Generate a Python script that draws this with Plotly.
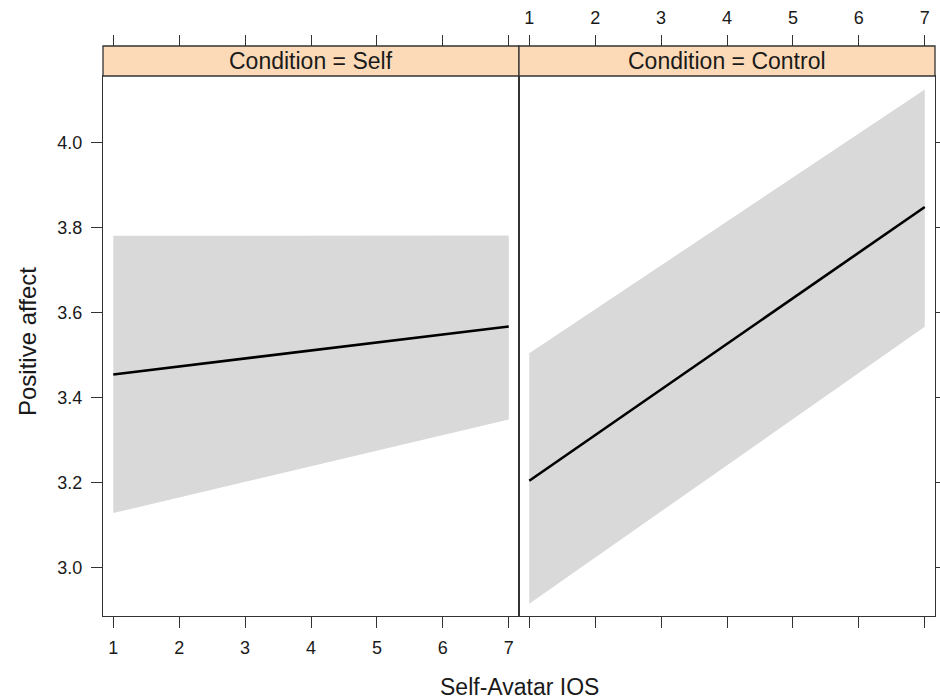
import plotly.graph_objects as go

# ---- data ----
conditions = ["Self", "Control"]
ios_x = [1, 7]
fit_self = [3.454, 3.567]
upper_self = [3.780, 3.781]
lower_self = [3.128, 3.348]
fit_control = [3.204, 3.848]
upper_control = [3.504, 4.124]
lower_control = [2.915, 3.566]
x_ticks = [1, 2, 3, 4, 5, 6, 7]
y_ticks = [3.0, 3.2, 3.4, 3.6, 3.8, 4.0]
y_tick_text = ["3.0", "3.2", "3.4", "3.6", "3.8", "4.0"]

W, H = 940, 700
FONT = "Liberation Sans, Arial, sans-serif"
TXT = "#1a1a1a"
FRAME = "#333333"
BAND = "#D9D9D9"
STRIP = "#FCDAB8"

px_l, px_m, px_r = 103, 519, 935
py_top, py_bot = 76, 616
strip_top = 46
dom_l = [px_l / W, px_m / W]
dom_r = [px_m / W, px_r / W]
dom_y = [(H - py_bot) / H, (H - py_top) / H]
strip_y = [(H - py_top) / H, (H - strip_top) / H]

xr = [0.844, 7.155]
yr = [2.886, 4.156]

fig = go.Figure()

panels = [
    ("x", "y", fit_self, upper_self, lower_self),
    ("x2", "y2", fit_control, upper_control, lower_control),
]
for xa, ya, fit, up, lo in panels:
    fig.add_trace(go.Scatter(
        x=ios_x + ios_x[::-1], y=up + lo[::-1], fill="toself",
        fillcolor=BAND, line=dict(width=0), mode="lines",
        hoverinfo="skip", showlegend=False, xaxis=xa, yaxis=ya))
    fig.add_trace(go.Scatter(
        x=ios_x, y=fit, mode="lines", line=dict(color="black", width=2.6),
        showlegend=False, xaxis=xa, yaxis=ya))

# invisible traces for top overlay axes
fig.add_trace(go.Scatter(x=[None], y=[None], xaxis="x3", yaxis="y", showlegend=False))
fig.add_trace(go.Scatter(x=[None], y=[None], xaxis="x4", yaxis="y2", showlegend=False))

tick_common = dict(ticks="outside", ticklen=11, tickwidth=1.2, tickcolor=FRAME,
                   tickfont=dict(family=FONT, size=18, color=TXT),
                   showgrid=False, zeroline=False, automargin=False)

fig.update_layout(
    template="none",
    width=W, height=H, margin=dict(l=0, r=0, t=0, b=0, pad=0),
    plot_bgcolor="white", paper_bgcolor="white", showlegend=False,
    xaxis=dict(domain=dom_l, range=xr, anchor="y", tickvals=x_ticks,
               ticklabelstandoff=4,
               showline=True, linecolor=FRAME, linewidth=1.3, mirror=True,
               **tick_common),
    xaxis2=dict(domain=dom_r, range=xr, anchor="y2", tickvals=x_ticks,
                showticklabels=False,
                showline=True, linecolor=FRAME, linewidth=1.3, mirror=True,
                **tick_common),
    xaxis3=dict(domain=dom_l, range=xr, overlaying="x", anchor="free",
                position=strip_y[1], side="top", tickvals=x_ticks,
                showticklabels=False, showline=False, **tick_common),
    xaxis4=dict(domain=dom_r, range=xr, overlaying="x2", anchor="free",
                position=strip_y[1], side="top", tickvals=x_ticks,
                ticklabelstandoff=4,
                showticklabels=True, showline=False, **tick_common),
    yaxis=dict(domain=dom_y, range=yr, anchor="x", tickvals=y_ticks,
               ticktext=y_tick_text, ticklabelstandoff=5,
               showline=True, linecolor=FRAME, linewidth=1.3, mirror=True,
               **tick_common),
    yaxis2=dict(domain=dom_y, range=yr, anchor="x2", side="right",
                tickvals=y_ticks, showticklabels=False,
                showline=True, linecolor=FRAME, linewidth=1.3, mirror=True,
                **tick_common),
)

# strips
for dom, cond in zip([dom_l, dom_r], conditions):
    fig.add_shape(type="rect", xref="paper", yref="paper",
                  x0=dom[0], x1=dom[1], y0=strip_y[0], y1=strip_y[1],
                  fillcolor=STRIP, line=dict(color=FRAME, width=1.3), layer="above")
    fig.add_annotation(xref="paper", yref="paper", x=(dom[0] + dom[1]) / 2,
                       y=(strip_y[0] + strip_y[1]) / 2, text=f"Condition = {cond}",
                       showarrow=False, xanchor="center", yanchor="middle",
                       font=dict(family=FONT, size=23, color=TXT))

# axis titles
fig.add_annotation(xref="paper", yref="paper", x=(px_l + px_r) / 2 / W, y=(H - 687) / H,
                   text="Self-Avatar IOS", showarrow=False, xanchor="center",
                   yanchor="middle", font=dict(family=FONT, size=23, color=TXT))
fig.add_annotation(xref="paper", yref="paper", x=27 / W, y=(H - 342) / H,
                   text="Positive affect", showarrow=False, textangle=-90,
                   xanchor="center", yanchor="middle",
                   font=dict(family=FONT, size=24, color=TXT))

fig.write_html("out.html")
